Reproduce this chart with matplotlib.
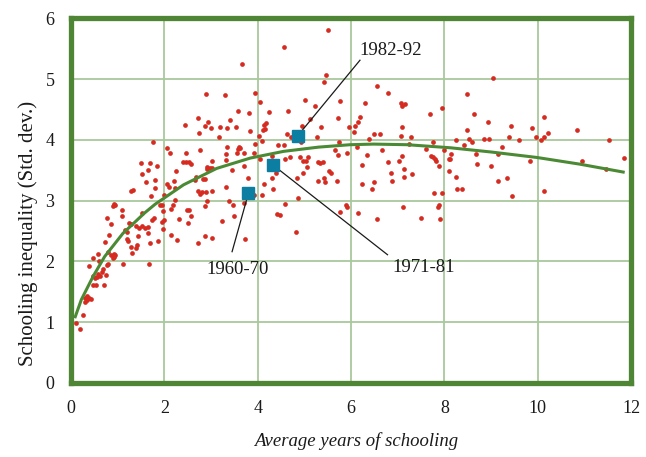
import matplotlib
matplotlib.use("Agg")
import matplotlib.pyplot as plt

# country observations (average years of schooling, std. dev. of schooling)
school_x = [
    3.67, 2.89, 3.29, 3.95, 4.04, 2.71, 2.94, 2.88, 2.99, 2.45, 3.40, 3.58, 3.82, 3.19,
    3.35, 3.54, 3.84, 2.75, 3.17, 4.03, 1.75, 2.06, 2.12, 2.46, 2.76, 3.34, 3.31, 3.59,
    3.62, 3.57, 3.55, 3.70, 4.04, 3.31, 1.50, 1.69, 1.84, 2.40, 2.46, 2.52, 2.57, 3.03,
    2.92, 2.97, 3.02, 2.91, 3.71, 1.65, 2.24, 3.44, 1.51, 2.68, 2.66, 2.83, 2.86, 3.79,
    1.79, 1.61, 2.21, 2.05, 2.09, 2.22, 3.33, 1.33, 1.28, 1.79, 2.71, 2.80, 2.76, 2.90,
    3.01, 3.92, 1.72, 1.99,
    3.38, 3.48, 3.71, 2.91, 2.23, 2.19, 0.90, 0.95, 0.93, 1.09, 1.91, 1.95, 1.97, 2.15,
    2.48, 2.52, 2.57, 2.86, 1.10, 1.52, 0.78, 1.74, 1.78, 1.95, 2.00, 2.31, 2.50, 3.24,
    3.49, 0.86, 1.25, 1.29, 1.40, 1.52, 1.46, 1.64, 1.58, 1.16, 1.19, 1.98, 1.65, 1.44,
    0.81, 2.15, 2.86, 2.26, 1.20, 1.23, 3.01, 3.73, 1.86, 1.69, 2.73, 0.72, 1.41, 1.39,
    1.29, 0.92, 0.91, 0.95, 0.85, 0.80, 0.58, 1.31, 0.89, 0.48, 0.59, 0.78, 0.80, 1.12,
    1.66, 0.38, 0.69, 0.66, 0.57, 0.62, 0.55, 0.51, 0.48, 0.74, 0.71, 0.46, 0.53, 0.34,
    0.39, 0.35, 0.43, 0.30, 0.29, 0.26, 0.10, 0.20,
    5.50, 4.56, 5.47, 5.43, 6.56, 6.79, 5.02, 5.76, 6.29, 7.07, 7.16, 7.10, 7.94, 5.22,
    4.65, 4.25, 7.69, 5.71, 6.19, 6.15, 5.11, 4.17, 4.14, 4.94, 5.35, 5.96, 6.08, 7.09,
    4.15, 4.11, 6.07, 6.48, 6.62, 4.63, 4.71, 5.28, 7.06, 7.28, 6.39, 4.10, 5.74, 4.93,
    7.75, 7.24, 4.44, 4.56, 3.95, 6.12, 5.66, 6.66, 7.61, 8.00, 3.93, 5.73, 5.92, 6.34,
    7.09, 7.72, 7.76, 7.80, 4.31, 4.69, 4.59, 4.91, 4.97, 5.04, 5.07, 5.29, 5.39, 5.34,
    6.78, 7.03, 7.82, 8.09, 5.06, 6.24, 7.88, 5.53, 5.58, 4.40, 4.98, 6.86, 7.14, 7.30,
    8.09, 4.30, 4.84, 5.42, 7.14, 5.30, 5.44, 5.70, 6.48, 6.88, 4.14, 6.24, 6.45, 4.32,
    4.09, 7.77, 7.95, 4.86,
    4.59, 4.42, 4.48, 4.81, 5.89, 5.91, 5.76, 6.14, 6.55, 7.12, 7.50, 7.88, 7.87, 7.90,
    9.03, 8.49, 8.64, 10.13, 8.93, 9.43, 8.49, 9.87, 10.21, 10.84, 9.97, 10.14, 10.06,
    8.25, 8.53, 8.58, 8.85, 8.95, 9.38, 9.60, 11.52, 8.42, 9.23, 8.15, 8.12, 8.68, 9.14,
    9.84, 10.95, 11.84, 8.69, 9.00, 11.46, 8.24, 9.14, 9.34, 8.27, 8.37, 10.14, 9.44,
]
school_sd = [
    5.24, 4.76, 4.73, 4.77, 4.63, 4.36, 4.29, 4.22, 4.20, 4.24, 4.32, 4.47, 4.44, 4.21,
    4.20, 4.21, 4.14, 4.12, 4.05, 4.07, 3.96, 3.87, 3.79, 3.78, 3.83, 3.88, 3.76, 3.88,
    3.86, 3.85, 3.78, 3.79, 3.68, 3.67, 3.62, 3.62, 3.57, 3.64, 3.64, 3.63, 3.61, 3.65,
    3.56, 3.53, 3.54, 3.52, 3.57, 3.51, 3.48, 3.50, 3.43, 3.39, 3.34, 3.35, 3.35, 3.38,
    3.34, 3.31, 3.32, 3.28, 3.22, 3.21, 3.22, 3.18, 3.16, 3.20, 3.16, 3.15, 3.11, 3.15,
    3.16, 3.10, 3.08, 3.10,
    2.99, 2.93, 2.96, 3.00, 3.01, 2.92, 2.91, 2.92, 2.95, 2.85, 2.92, 2.92, 2.83, 2.87,
    2.85, 2.85, 2.75, 2.91, 2.75, 2.79, 2.71, 2.68, 2.72, 2.65, 2.68, 2.69, 2.64, 2.66,
    2.74, 2.62, 2.63, 2.62, 2.59, 2.58, 2.55, 2.56, 2.55, 2.52, 2.48, 2.54, 2.46, 2.41,
    2.44, 2.44, 2.42, 2.35, 2.37, 2.34, 2.38, 2.37, 2.33, 2.30, 2.30, 2.32, 2.27, 2.22,
    2.23, 2.13, 2.08, 2.11, 2.10, 2.16, 2.13, 2.14, 2.05, 2.06, 2.00, 1.94, 1.95, 1.95,
    1.95, 1.93, 1.88, 1.83, 1.80, 1.76, 1.75, 1.73, 1.76, 1.78, 1.62, 1.61, 1.61, 1.43,
    1.39, 1.37, 1.38, 1.33, 1.40, 1.11, 0.98, 0.88,
    5.80, 5.52, 5.06, 4.95, 4.89, 4.77, 4.66, 4.64, 4.61, 4.61, 4.59, 4.55, 4.52, 4.55,
    4.48, 4.46, 4.42, 4.36, 4.38, 4.30, 4.35, 4.27, 4.25, 4.22, 4.21, 4.21, 4.22, 4.21,
    4.18, 4.16, 4.13, 4.09, 4.09, 4.10, 4.04, 4.05, 4.07, 4.05, 4.01, 3.98, 3.97, 3.96,
    3.96, 3.93, 3.92, 3.92, 3.93, 3.89, 3.84, 3.83, 3.85, 3.84, 3.79, 3.75, 3.79, 3.75,
    3.74, 3.73, 3.71, 3.69, 3.74, 3.72, 3.69, 3.71, 3.66, 3.66, 3.71, 3.63, 3.63, 3.62,
    3.64, 3.65, 3.65, 3.69, 3.56, 3.58, 3.57, 3.48, 3.45, 3.46, 3.45, 3.46, 3.52, 3.44,
    3.48, 3.38, 3.38, 3.37, 3.39, 3.32, 3.31, 3.33, 3.31, 3.33, 3.28, 3.28, 3.19, 3.19,
    3.09, 3.13, 3.13, 3.05,
    2.94, 2.78, 2.77, 2.49, 2.93, 2.90, 2.81, 2.79, 2.69, 2.89, 2.72, 2.92, 2.90, 2.70,
    5.02, 4.75, 4.43, 4.37, 4.30, 4.22, 4.17, 4.19, 4.11, 4.16, 4.05, 4.05, 4.00,
    4.00, 4.02, 3.97, 4.02, 4.01, 4.04, 3.99, 3.99, 3.92, 3.89, 3.76, 3.69, 3.76, 3.76,
    3.66, 3.66, 3.70, 3.61, 3.57, 3.52, 3.39, 3.33, 3.38, 3.19, 3.19, 3.16, 3.08,
]

# fitted curve
fit_x = [0.09, 0.22, 0.47, 0.72, 1.11, 1.58, 1.80, 2.41, 3.12, 3.84, 4.55, 5.30,
         5.98, 6.48, 7.20, 8.12, 9.00, 9.98, 10.90, 11.83]
fit_y = [1.09, 1.37, 1.75, 2.08, 2.46, 2.80, 2.94, 3.26, 3.53, 3.70, 3.81, 3.88,
         3.92, 3.93, 3.92, 3.87, 3.80, 3.71, 3.60, 3.47]

# world averages by decade
decades = ["1960-70", "1971-81", "1982-92"]
decade_x = [3.80, 4.32, 4.86]
decade_y = [3.12, 3.59, 4.07]

frame_green = "#4e8636"
grid_green = "#a9c89c"
ink = "#1a1a1a"
serif = ["Liberation Serif", "DejaVu Serif"]

fig = plt.figure(figsize=(6.46, 4.57), dpi=100)
ax = fig.add_axes([0.110, 0.162, 0.867, 0.798])

ax.plot(school_x, school_sd, "o", color="#d62b20", ms=3.4, mec="none", zorder=3)
ax.plot(fit_x, fit_y, "-", color="#4b8a34", lw=2.2, zorder=4)

# leader lines to the decade labels
ax.plot([decade_x[0], 3.45], [decade_y[0], 2.16], color=ink, lw=0.9, zorder=5)
ax.plot([decade_x[1], 6.78], [decade_y[1], 2.11], color=ink, lw=0.9, zorder=5)
ax.plot([decade_x[2], 6.19], [decade_y[2], 5.31], color=ink, lw=0.9, zorder=5)
ax.plot(decade_x, decade_y, "s", color="#0b7ea2", ms=8, mec="#0b7ea2", zorder=6)

ax.text(2.89, 1.87, decades[0], ha="left", va="center", fontsize=13.5,
        family=serif, color=ink)
ax.text(6.88, 1.90, decades[1], ha="left", va="center", fontsize=13.5,
        family=serif, color=ink)
ax.text(6.18, 5.47, decades[2], ha="left", va="center", fontsize=13.5,
        family=serif, color=ink)

ax.set_xlim(0, 12)
ax.set_ylim(0, 6)
ax.set_xticks(range(0, 13, 2))
ax.set_yticks(range(0, 7))
ax.grid(True, color=grid_green, lw=1.3)
ax.set_axisbelow(True)
for s in ax.spines.values():
    s.set_color(frame_green)
    s.set_linewidth(3.8)
ax.tick_params(length=0, labelsize=13, labelcolor=ink, pad=12)
for lab in ax.get_xticklabels() + ax.get_yticklabels():
    lab.set_family(serif)

ax.set_xlabel("Average years of schooling", fontsize=13.5, family=serif,
              style="italic", color=ink)
ax.set_ylabel("Schooling inequality (Std. dev.)", fontsize=15, family=serif,
              color=ink)
ax.xaxis.set_label_coords(0.509, -0.135)
ax.yaxis.set_label_coords(-0.059, 0.411)

fig.savefig("out.png", dpi=100)
